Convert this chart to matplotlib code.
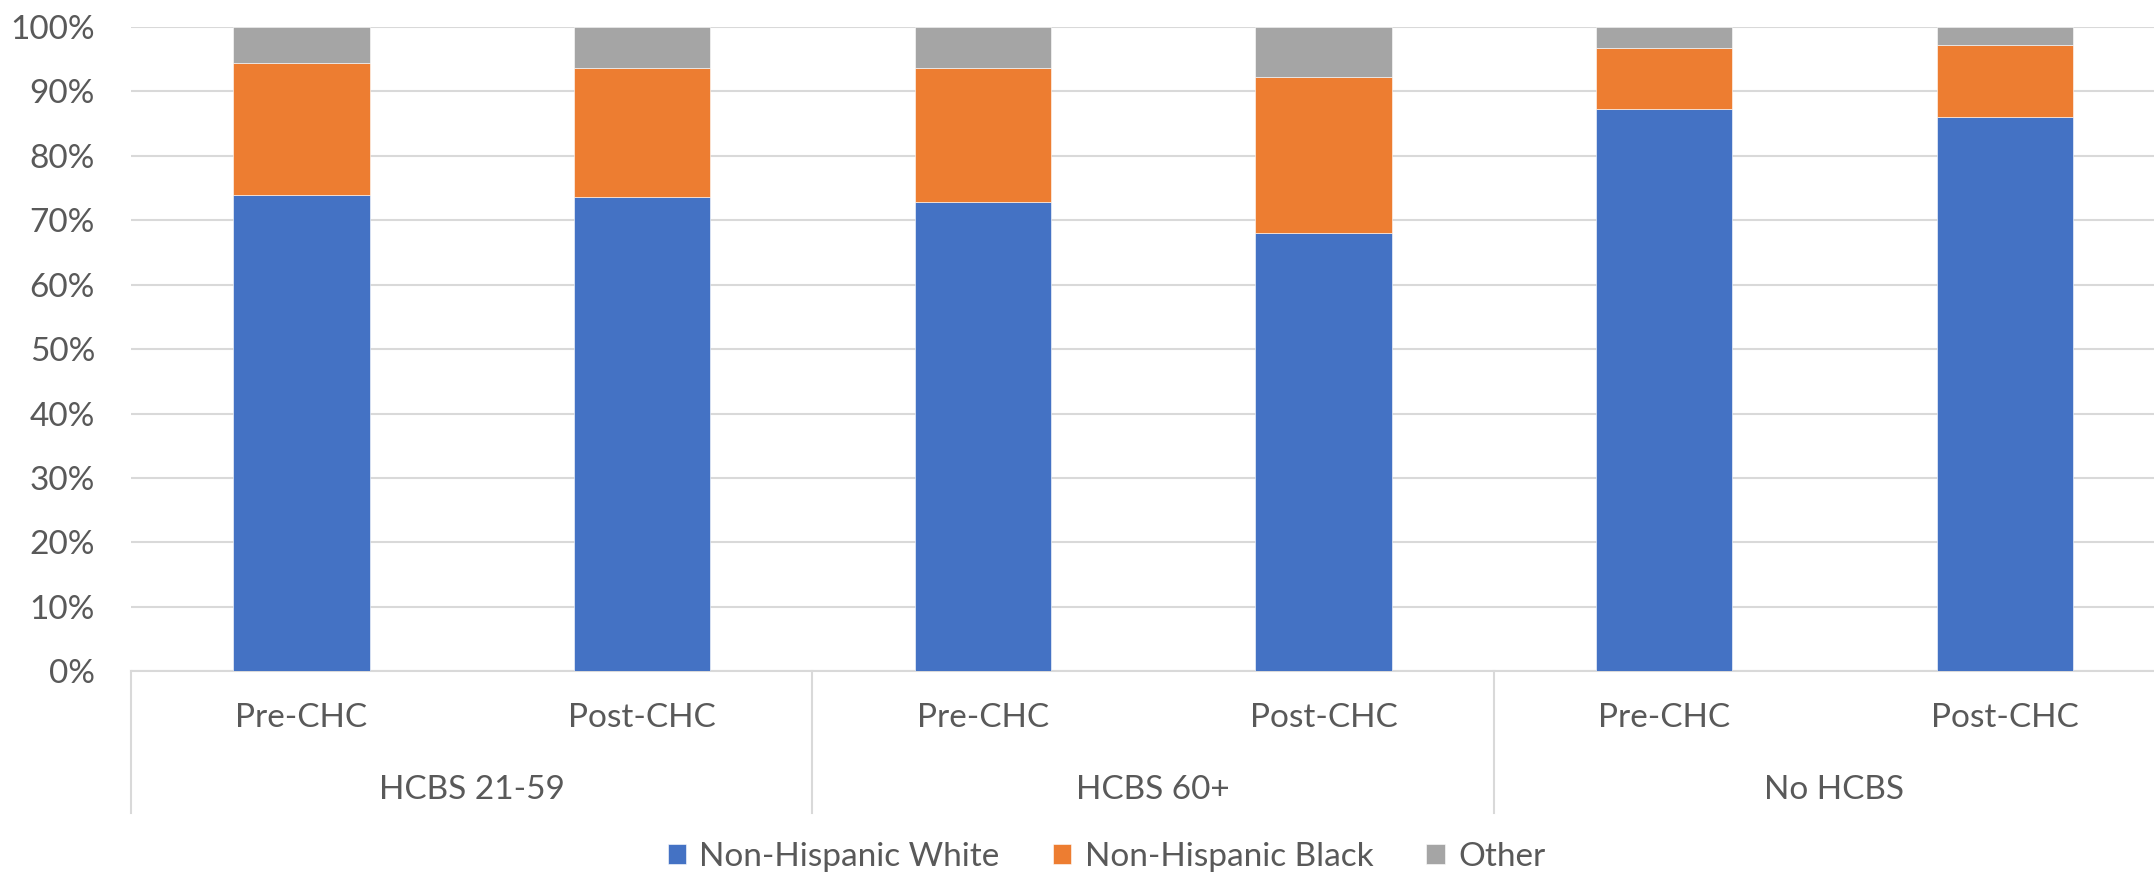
# Stacked race/ethnicity shares by HCBS group, pre and post CHC

import matplotlib.pyplot as plt
import numpy as np

periods = ['Pre-CHC', 'Post-CHC', 'Pre-CHC', 'Post-CHC', 'Pre-CHC', 'Post-CHC']
groups = ['HCBS 21-59', 'HCBS 60+', 'No HCBS']
series_names = ['Non-Hispanic White', 'Non-Hispanic Black', 'Other']
white = [74.0, 73.6, 72.8, 68.1, 87.2, 86.0]
black = [20.4, 20.1, 20.8, 24.2, 9.5, 11.2]
other = [5.6, 6.3, 6.4, 7.7, 3.3, 2.8]

colors = ['#4472C4', '#ED7D31', '#A5A5A5']
text_col = '#595959'
line_col = '#D9D9D9'

plt.rcParams['font.family'] = ['Lato', 'DejaVu Sans']
fs = 24

W, H = 2154, 875
fig = plt.figure(figsize=(W / 100, H / 100), dpi=100)
# plot area in pixels: x 131..2175 (runs past right edge), y 27..671
ax = fig.add_axes([131.2 / W, 1 - 671.3 / H, (2175 - 131.2) / W, (671.3 - 27) / H])

x = np.arange(len(periods))
bottom = np.zeros(len(periods))
handles = []
for vals, name, c in zip([white, black, other], series_names, colors):
    b = ax.bar(x, vals, width=0.4, bottom=bottom, color=c, label=name,
               edgecolor='white', linewidth=0.4, zorder=3)
    handles.append(b)
    bottom += np.array(vals)

ax.set_xlim(-0.5, len(periods) - 0.5)
ax.set_ylim(0, 100)
ax.set_yticks(np.arange(0, 101, 10))
ax.set_yticklabels(['{}%'.format(v) for v in range(0, 101, 10)])
ax.yaxis.grid(True, color=line_col, lw=1.5, zorder=0)
ax.tick_params(axis='y', length=0, pad=26, labelsize=fs, labelcolor=text_col)
ax.set_xticks([])
for s in ['top', 'right', 'left']:
    ax.spines[s].set_visible(False)
ax.spines['bottom'].set_color(line_col)
ax.spines['bottom'].set_linewidth(1.5)

# two-level category axis
trans = ax.get_xaxis_transform()
for xi, lab in zip(x, periods):
    ax.text(xi, -47 / 644.3, lab, transform=trans, ha='center', va='center',
            fontsize=fs, color=text_col)
for gi, g in enumerate(groups):
    ax.text(2 * gi + 0.5, -119 / 644.3, g, transform=trans, ha='center',
            va='center', fontsize=fs, color=text_col)
for xb in [-0.5, 1.5, 3.5, 5.5]:
    ax.plot([xb, xb], [0, -142 / 644.3], transform=trans, color=line_col,
            lw=1.5, clip_on=False)

fig.legend(handles=handles, labels=series_names, loc='center',
           bbox_to_anchor=(1106.5 / W, 1 - 857 / H), ncol=3, frameon=False,
           fontsize=fs, labelcolor=text_col, handlelength=0.55,
           handleheight=0.55, handletextpad=0.4, columnspacing=1.6)

fig.savefig('out.png', dpi=100)
